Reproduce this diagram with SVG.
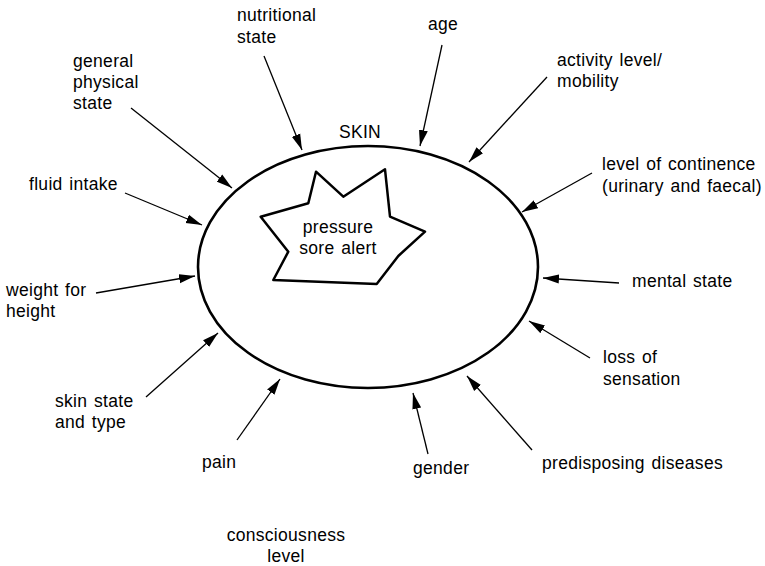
<svg xmlns="http://www.w3.org/2000/svg" width="765" height="566" viewBox="0 0 765 566">
<defs>
<style>
text{font-family:"Liberation Sans",Arial,sans-serif;font-size:17.5px;fill:#000;letter-spacing:0.3px;word-spacing:1.5px}
.c{text-anchor:middle}
.ln{stroke:#000;stroke-width:1.3;fill:none;marker-end:url(#ah)}
</style>
<marker id="ah" markerUnits="userSpaceOnUse" markerWidth="18" markerHeight="10" refX="16" refY="5" orient="auto">
<path d="M0,0.5 L16,5 L0,9.5 Z" fill="#000"/>
</marker>
</defs>
<rect width="765" height="566" fill="#fff"/>
<g id="skin">
<ellipse cx="368" cy="267" rx="170" ry="121" fill="none" stroke="#000" stroke-width="2.6"/>
<text x="360" y="138" class="c">SKIN</text>
</g>
<g id="alert">
<polygon points="260.7,216.7 308.3,203.3 316,171.7 343.3,196.7 385,169.3 390,216.7 425,231.7 398.3,256 376.7,284 273.3,280 288.3,251.7" fill="none" stroke="#000" stroke-width="2.5" stroke-linejoin="round"/>
<text x="338" y="233" class="c">pressure</text>
<text x="338" y="254" class="c">sore alert</text>
</g>
<g id="nutritional"><text x="237" y="21">nutritional</text><text x="237" y="43">state</text></g>
<g id="general"><text x="73" y="67">general</text><text x="73" y="88">physical</text><text x="73" y="109">state</text></g>
<g id="fluid"><text x="29" y="190">fluid intake</text></g>
<g id="weight"><text x="6" y="296">weight for</text><text x="6" y="317">height</text></g>
<g id="skinstate"><text x="55" y="407">skin state</text><text x="55" y="428">and type</text></g>
<g id="pain"><text x="202" y="468">pain</text></g>
<g id="consciousness"><text x="286" y="541" class="c">consciousness</text><text x="286" y="562" class="c">level</text></g>
<g id="age"><text x="428" y="30">age</text></g>
<g id="activity"><text x="557" y="66">activity level/</text><text x="557" y="87">mobility</text></g>
<g id="continence"><text x="602" y="170">level of continence</text><text x="602" y="192">(urinary and faecal)</text></g>
<g id="mental"><text x="632" y="287">mental state</text></g>
<g id="sensation"><text x="603" y="363">loss of</text><text x="603" y="385">sensation</text></g>
<g id="predisposing"><text x="542" y="469">predisposing diseases</text></g>
<g id="gender"><text x="413" y="474">gender</text></g>
<g id="connectors">
<line class="ln" x1="264" y1="56" x2="302" y2="150"/>
<line class="ln" x1="131" y1="108" x2="232" y2="188"/>
<line class="ln" x1="125" y1="193" x2="202" y2="225"/>
<line class="ln" x1="96" y1="293" x2="195" y2="276"/>
<line class="ln" x1="146" y1="397" x2="218" y2="333"/>
<line class="ln" x1="237" y1="440" x2="280" y2="379"/>
<line class="ln" x1="442" y1="45" x2="420" y2="146"/>
<line class="ln" x1="547" y1="77" x2="469" y2="162"/>
<line class="ln" x1="592" y1="173" x2="522" y2="212"/>
<line class="ln" x1="619" y1="283" x2="543" y2="278"/>
<line class="ln" x1="590" y1="358" x2="529" y2="321"/>
<line class="ln" x1="532" y1="450" x2="467" y2="376"/>
<line class="ln" x1="428" y1="454" x2="413" y2="393"/>
</g>
</svg>
